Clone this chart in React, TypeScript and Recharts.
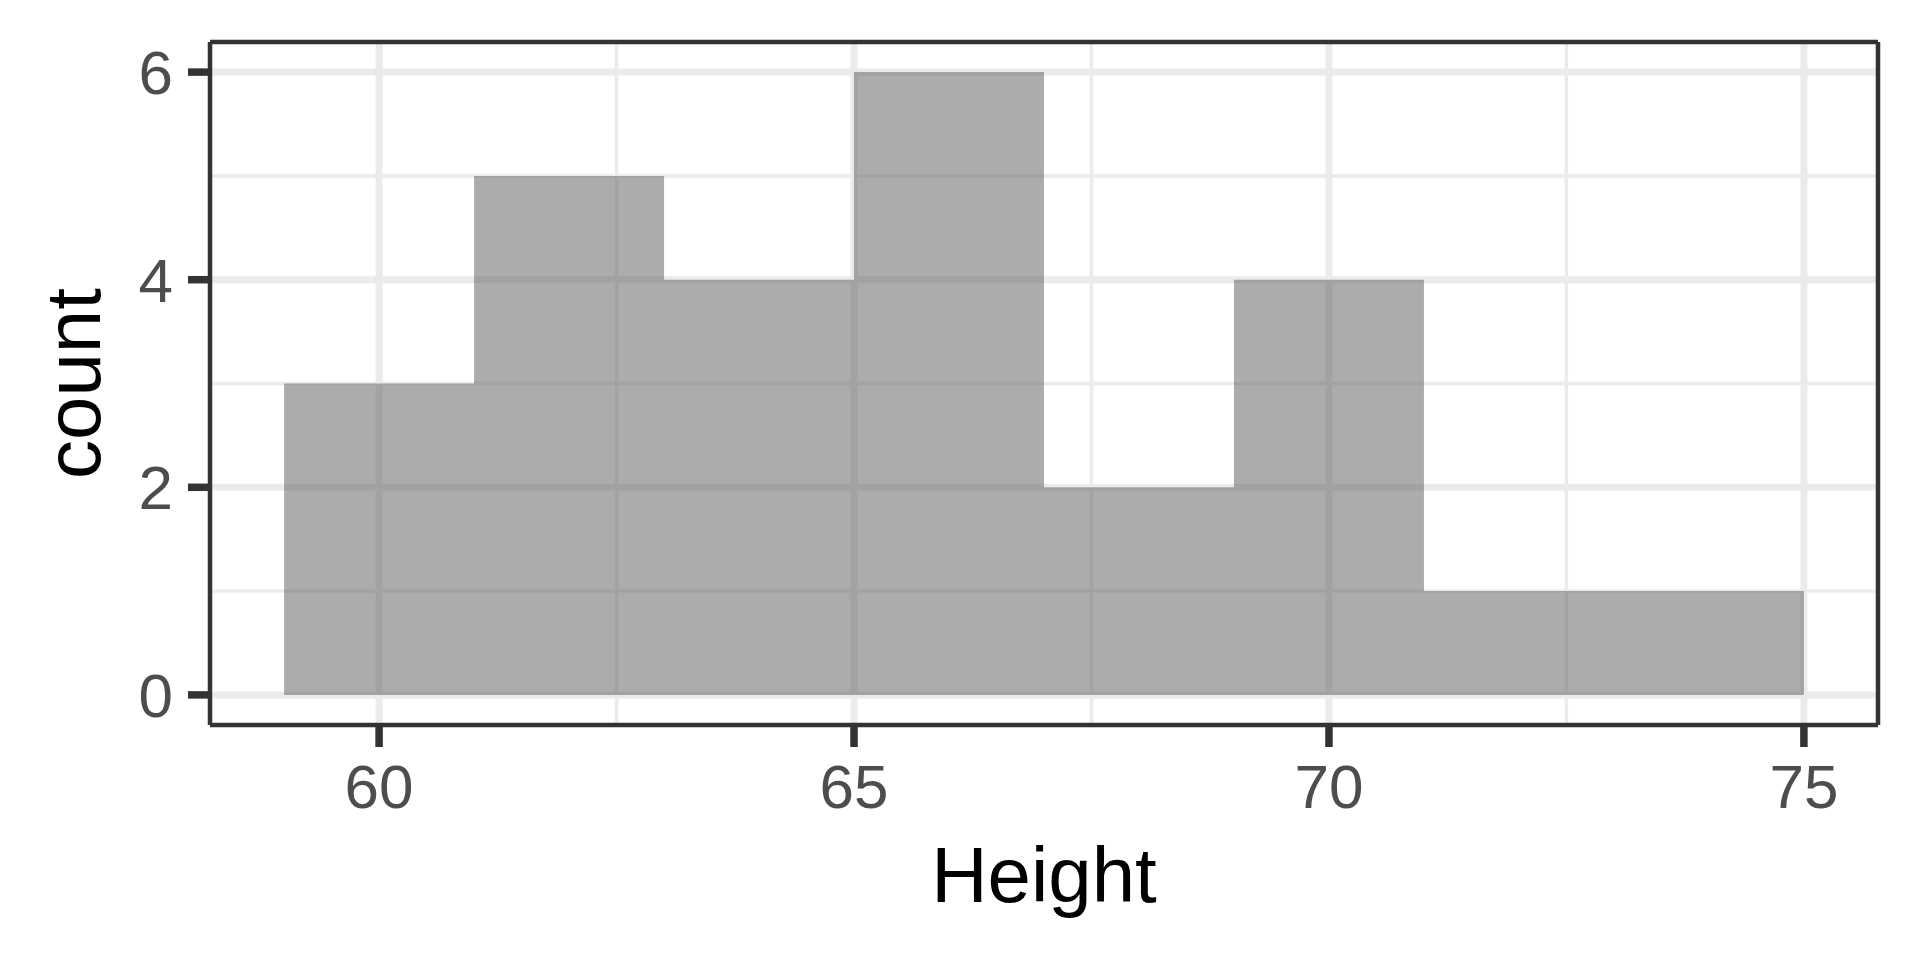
import React from "react";
import { ComposedChart, Area, XAxis, YAxis, CartesianGrid, Label, ReferenceLine } from "recharts";

// Histogram bins (Height), width 2
const binStarts = [59, 61, 63, 65, 67, 69, 71, 73];
const binWidth = 2;
const counts = [3, 5, 4, 6, 2, 4, 1, 1];

const xTicks = [60, 65, 70, 75];
const xMinor = [62.5, 67.5, 72.5];
const yTicks = [0, 2, 4, 6];
const yMinor = [1, 3, 5];
const xDomain: [number, number] = [58.22, 75.78];
const yDomain: [number, number] = [-0.29, 6.29];

const stepData = [
  ...binStarts.map((s, i) => ({ x: s, count: counts[i] })),
  { x: binStarts[binStarts.length - 1] + binWidth, count: counts[counts.length - 1] },
];

const FONT = "'Liberation Sans', Arial, Helvetica, sans-serif";

const YTitle = (props: any) => {
  const vb = props.viewBox || { x: 0, y: 42, width: 210, height: 683 };
  const cy = vb.y + vb.height / 2;
  const bx = vb.x + 100;
  return (
    <text
      x={bx}
      y={cy}
      transform={`rotate(-90 ${bx} ${cy})`}
      textAnchor="middle"
      fontSize={78}
      fill="#000000"
      fontFamily={FONT}
    >
      count
    </text>
  );
};

export default function App() {
  return (
    <div style={{ position: "absolute", left: 0, top: 0, width: 1920, height: 960, background: "#fff" }}>
      <ComposedChart
        width={1920}
        height={960}
        data={stepData}
        margin={{ top: 42, right: 42, left: 0, bottom: 0 }}
        style={{ fontFamily: FONT }}
      >
        <CartesianGrid
          stroke="#EBEBEB"
          strokeWidth={3.5}
          horizontalValues={yMinor}
          verticalValues={xMinor}
        />
        <CartesianGrid
          stroke="#EBEBEB"
          strokeWidth={7}
          horizontalValues={yTicks}
          verticalValues={xTicks}
        />
        <XAxis
          dataKey="x"
          type="number"
          domain={xDomain}
          ticks={xTicks}
          allowDataOverflow
          height={235}
          tickSize={22}
          tickMargin={17}
          tick={{ fill: "#4D4D4D", fontSize: 62, fontFamily: FONT }}
          tickLine={{ stroke: "#333333", strokeWidth: 7.5 }}
          axisLine={{ stroke: "#333333", strokeWidth: 4.5 }}
        >
          <Label value="Height" position="insideBottom" offset={58} fill="#000000" fontSize={78} fontFamily={FONT} />
        </XAxis>
        <YAxis
          type="number"
          domain={yDomain}
          ticks={yTicks}
          allowDataOverflow
          width={210}
          tickSize={22}
          tickMargin={15}
          tick={{ fill: "#4D4D4D", fontSize: 62, fontFamily: FONT }}
          tickLine={{ stroke: "#333333", strokeWidth: 7.5 }}
          axisLine={{ stroke: "#333333", strokeWidth: 4.5 }}
        >
          <Label content={YTitle} />
        </YAxis>
        <Area
          type="stepAfter"
          dataKey="count"
          baseValue={0}
          fill="#595959"
          fillOpacity={0.5}
          stroke="none"
          isAnimationActive={false}
          dot={false}
          activeDot={false}
        />
        <ReferenceLine y={yDomain[1]} stroke="#333333" strokeWidth={4.5} ifOverflow="visible" />
        <ReferenceLine x={xDomain[1]} stroke="#333333" strokeWidth={4.5} ifOverflow="visible" />
      </ComposedChart>
    </div>
  );
}
